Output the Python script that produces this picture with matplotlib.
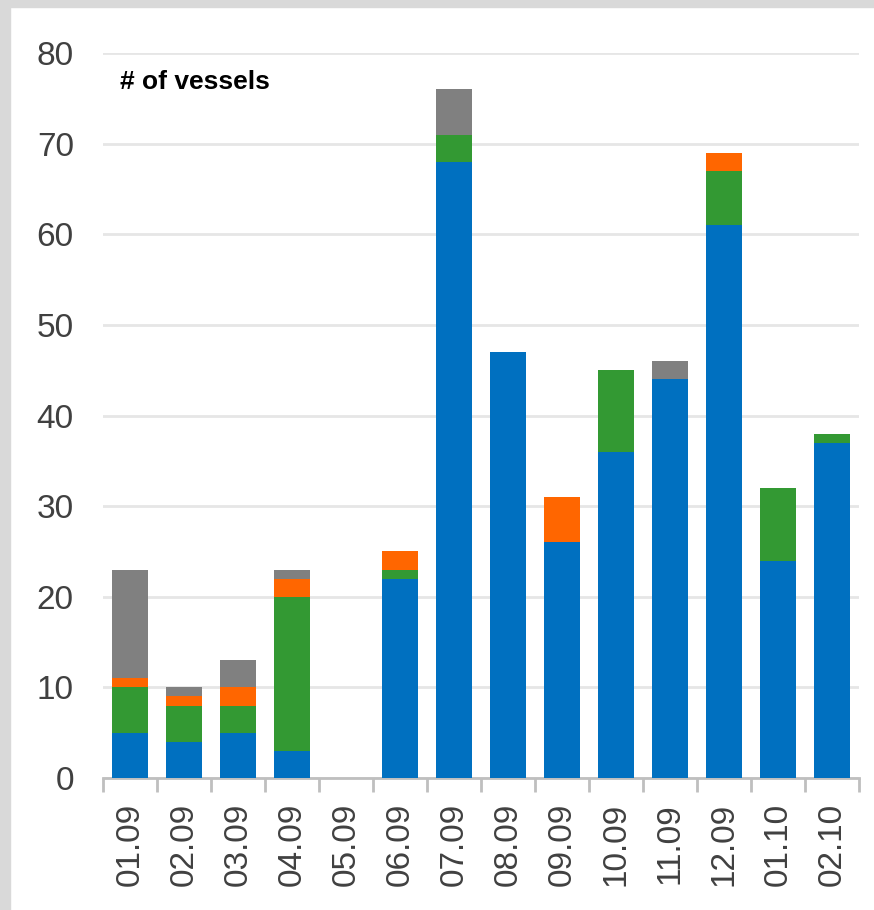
import matplotlib
matplotlib.use("Agg")
import matplotlib.pyplot as plt
from matplotlib.patches import Rectangle
import numpy as np

categories = ["01.09", "02.09", "03.09", "04.09", "05.09", "06.09", "07.09",
              "08.09", "09.09", "10.09", "11.09", "12.09", "01.10", "02.10"]
blue_vals   = [5, 4, 5, 3, 0, 22, 68, 47, 26, 36, 44, 61, 24, 37]
green_vals  = [5, 4, 3, 17, 0, 1, 3, 0, 0, 9, 0, 6, 8, 1]
orange_vals = [1, 1, 2, 2, 0, 2, 0, 0, 5, 0, 0, 2, 0, 0]
gray_vals   = [12, 1, 3, 1, 0, 0, 5, 0, 0, 0, 2, 0, 0, 0]
y_ticks = [0, 10, 20, 30, 40, 50, 60, 70, 80]
annotation = "# of vessels"

series = [blue_vals, green_vals, orange_vals, gray_vals]
colors = ["#0070C0", "#339933", "#FF6600", "#808080"]

plt.rcParams["font.family"] = ["Liberation Sans", "DejaVu Sans"]

W, H = 874, 910
fig = plt.figure(figsize=(W / 100, H / 100), dpi=100, facecolor="white")

# gray frame on top and left
fig.patches.append(Rectangle((0, 1 - 7 / H), 1, 7 / H, transform=fig.transFigure,
                             color="#d9d9d9", zorder=0))
fig.patches.append(Rectangle((0, 0), 10 / W, 1, transform=fig.transFigure,
                             color="#d9d9d9", zorder=0))

ax = fig.add_axes([103 / W, 1 - 778 / H, (859 - 103) / W, (778 - 53) / H])
x = np.arange(len(categories))
bottom = np.zeros(len(categories))
for vals, c in zip(series, colors):
    v = np.array(vals, dtype=float)
    ax.bar(x, v, width=0.68, bottom=bottom, color=c, zorder=3, linewidth=0)
    bottom += v

ax.set_xlim(-0.5, len(categories) - 0.5)
ax.set_ylim(0, 80)
ax.set_yticks(y_ticks)
ax.set_yticklabels([str(t) for t in y_ticks], fontsize=24, color="#404040")
ax.tick_params(axis="y", length=0, pad=21)
ax.yaxis.grid(True, color="#e6e6e6", linewidth=2, zorder=0)
ax.set_axisbelow(True)

ax.set_xticks(x)
ax.set_xticklabels(categories, rotation=90, fontsize=24, color="#404040")
ax.tick_params(axis="x", which="major", length=0, pad=18)
ax.set_xticks(np.arange(-0.5, len(categories), 1.0), minor=True)
ax.tick_params(axis="x", which="minor", length=10, width=2, color="#bfbfbf")

for s in ["left", "right", "top"]:
    ax.spines[s].set_visible(False)
ax.spines["bottom"].set_color("#bfbfbf")
ax.spines["bottom"].set_linewidth(2)

ax.text(120 / W, 1 - 82 / H, annotation, transform=fig.transFigure, fontsize=19,
        fontweight="bold", color="black", va="center", ha="left")

fig.savefig("out.png", dpi=100, facecolor="white")
